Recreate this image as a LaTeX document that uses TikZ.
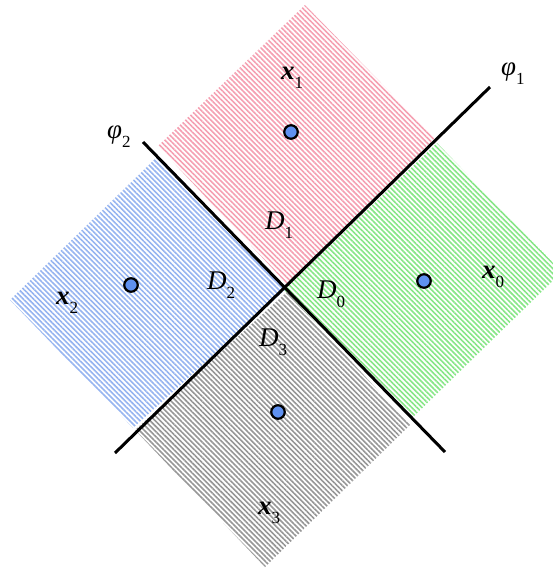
\documentclass[tikz,border=0pt]{standalone}
\usepackage{fontspec}
\setmainfont{Liberation Serif}
\usetikzlibrary{patterns.meta}
\definecolor{pinkH}{RGB}{245,160,178}
\definecolor{blueH}{RGB}{150,180,240}
\definecolor{greenH}{RGB}{135,230,135}
\definecolor{grayH}{RGB}{150,150,150}
\definecolor{dotblue}{RGB}{95,145,240}
\newcommand\symlab[2]{#1\raisebox{-9.5pt}{\fontsize{17}{17}\selectfont #2}}
\begin{document}
\begin{tikzpicture}[x=1pt,y=-1pt,
  hatch/.style={pattern={Lines[angle=-45,distance=3.6pt,line width=1.6pt]},pattern color=#1},
  sep/.style={line width=3pt,black},
  pt/.style={circle,draw=black,line width=2.2pt,fill=dotblue,minimum size=13.5pt,inner sep=0pt},
  lab/.style={font=\fontsize{27}{27}\selectfont,inner sep=0pt,anchor=base west}]
\useasboundingbox (0,0) rectangle (553,571);
\begin{scope}
  \clip (0,0) rectangle (553,571);
  \fill[hatch=pinkH] (305,5) -- (435,138) -- (287,284) -- (158,146) -- cycle;
  \fill[hatch=greenH] (437,143) -- (562,272) -- (413,417) -- (284,290) -- cycle;
  \fill[hatch=blueH] (157,157) -- (285,290) -- (133,428) -- (10,300) -- cycle;
  \fill[hatch=grayH] (287,292) -- (410,425) -- (265,567) -- (135,430) -- cycle;
\end{scope}
\coordinate (p1a) at (115,453);
\coordinate (p1b) at (490,87);
\coordinate (p2a) at (143,142);
\coordinate (p2b) at (445,452);
\draw[sep] (p1a) -- (p1b);
\draw[sep] (p2a) -- (p2b);
\node[pt] (c1) at (291,132) {};
\node[pt] (c2) at (131,285) {};
\node[pt] (c0) at (424,281) {};
\node[pt] (c3) at (278,412) {};
\node[lab] (D1) at (265,229) {\symlab{\textit{D}}{1}};
\node[lab] (D2) at (207,289) {\symlab{\textit{D}}{2}};
\node[lab] (D0) at (317,298) {\symlab{\textit{D}}{0}};
\node[lab] (D3) at (259,346) {\symlab{\textit{D}}{3}};
\node[lab] (x1) at (281,79) {\symlab{\textbf{\textit{x}}}{1}};
\node[lab] (x2) at (56,304) {\symlab{\textbf{\textit{x}}}{2}};
\node[lab] (x0) at (482,278) {\symlab{\textbf{\textit{x}}}{0}};
\node[lab] (x3) at (258,514) {\symlab{\textbf{\textit{x}}}{3}};
\node[lab] (f1) at (501,75) {\symlab{\textit{φ}}{1}};
\node[lab] (f2) at (107,138) {\symlab{\textit{φ}}{2}};
\end{tikzpicture}
\end{document}
